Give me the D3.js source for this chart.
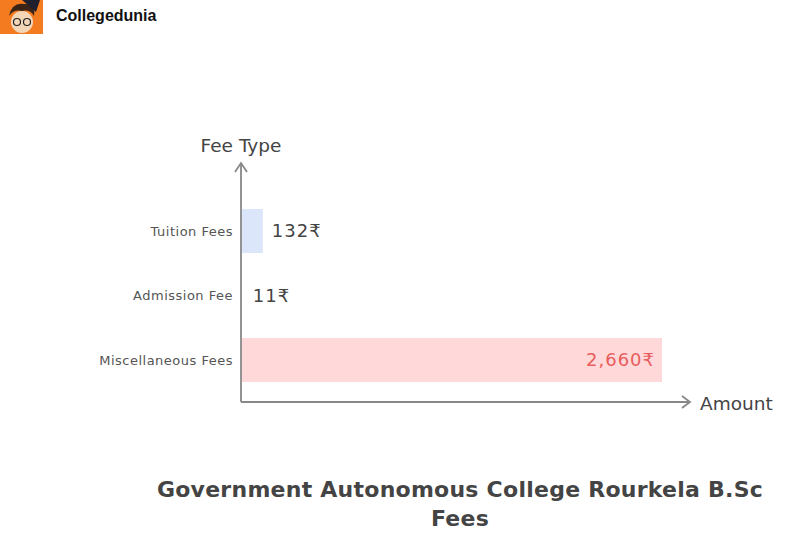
<!DOCTYPE html>
<html><head><meta charset="utf-8">
<script src="https://cdn.jsdelivr.net/npm/d3@7"></script>
<style>body{margin:0;background:#fff}svg{display:block}</style>
</head><body>
<svg id="c" width="803" height="545"></svg>
<script>
const categories = ["Tuition Fees", "Admission Fee", "Miscellaneous Fees"];
const values = [132, 11, 2660];
const valueLabels = ["132₹", "11₹", "2,660₹"];
const barColors = ["#dce6fb", "#ffffff", "#ffd9d9"];
const labelColors = ["#444444", "#444444", "#e85d5d"];
const titleLines = ["Government Autonomous College Rourkela B.Sc", "Fees"];

const svg = d3.select("#c");
const font = "'DejaVu Sans', 'Noto Sans', sans-serif";
const x0 = 241, y0 = 402;

// logo
const logo = svg.append("g");
logo.append("rect").attr("x",0).attr("y",0).attr("width",43).attr("height",34).attr("fill","#f47b20");
logo.append("circle").attr("cx",22).attr("cy",22).attr("r",11).attr("fill","#f3d6b8");
logo.append("path").attr("d","M9,16 Q12,2 24,4 Q36,3 34,16 Q30,9 22,11 Q14,9 9,16Z").attr("fill","#3a2418");
logo.append("path").attr("d","M22,0 L40,0 L36,12 Z").attr("fill","#1f1f2e");
logo.append("circle").attr("cx",17).attr("cy",22).attr("r",3.5).attr("fill","none").attr("stroke","#222").attr("stroke-width",1.2);
logo.append("circle").attr("cx",27).attr("cy",22).attr("r",3.5).attr("fill","none").attr("stroke","#222").attr("stroke-width",1.2);
svg.append("text").attr("x",56).attr("y",21).attr("font-family","Arial, 'Liberation Sans', sans-serif")
  .attr("font-weight","bold").attr("font-size",16).attr("fill","#111").text("Collegedunia");

const x = d3.scaleLinear().domain([0, 2660]).range([x0 + 1, 662]);
const y = d3.scaleBand().domain(categories).range([198.75, 392.25]).paddingInner(0.318).paddingOuter(0.159);

const g = svg.append("g");
g.selectAll("rect.bar").data(categories).join("rect").attr("class","bar")
  .attr("x", x(0)).attr("y", d => y(d))
  .attr("width", (d,i) => x(values[i]) - x(0)).attr("height", y.bandwidth())
  .attr("fill", (d,i) => barColors[i]);

// category labels
g.selectAll("text.cat").data(categories).join("text").attr("class","cat")
  .attr("x", 233).attr("y", d => y(d) + y.bandwidth()/2).attr("dy","0.35em")
  .attr("text-anchor","end").attr("font-family",font).attr("font-size",13).attr("letter-spacing",0.5).attr("fill","#555")
  .text(d => d);

// value labels
g.selectAll("text.val").data(categories).join("text").attr("class","val")
  .attr("x", (d,i) => i === 2 ? x(values[i]) - 7 : x(values[i]) + 9)
  .attr("y", d => y(d) + y.bandwidth()/2).attr("dy","0.35em")
  .attr("text-anchor", (d,i) => i === 2 ? "end" : "start")
  .attr("font-family",font).attr("font-size",18).attr("letter-spacing",1).attr("fill",(d,i)=>labelColors[i])
  .text((d,i) => valueLabels[i]);

// axes
const axc = "#888";
svg.append("path").attr("d",`M${x0},${y0} L${x0},163`).attr("stroke",axc).attr("stroke-width",1.8).attr("fill","none");
svg.append("path").attr("d",`M${x0-6},172 L${x0},163 L${x0+6},172`).attr("stroke",axc).attr("stroke-width",1.8).attr("fill","none");
svg.append("path").attr("d",`M${x0},${y0} L690,${y0}`).attr("stroke",axc).attr("stroke-width",1.8).attr("fill","none");
svg.append("path").attr("d",`M682,${y0-6} L690,${y0} L682,${y0+6}`).attr("stroke",axc).attr("stroke-width",1.8).attr("fill","none");

svg.append("text").attr("x",241).attr("y",152).attr("text-anchor","middle").attr("font-family",font)
  .attr("font-size",18.5).attr("fill","#444").text("Fee Type");
svg.append("text").attr("x",700).attr("y",410).attr("font-family",font)
  .attr("font-size",18.5).attr("fill","#444").text("Amount");

svg.selectAll("text.title").data(titleLines).join("text").attr("class","title")
  .attr("x",460).attr("y",(d,i)=>497 + i*29).attr("text-anchor","middle")
  .attr("font-family",font).attr("font-weight","bold").attr("font-size",22).attr("letter-spacing",0.25).attr("fill","#444")
  .text(d=>d);
</script>
</body></html>
